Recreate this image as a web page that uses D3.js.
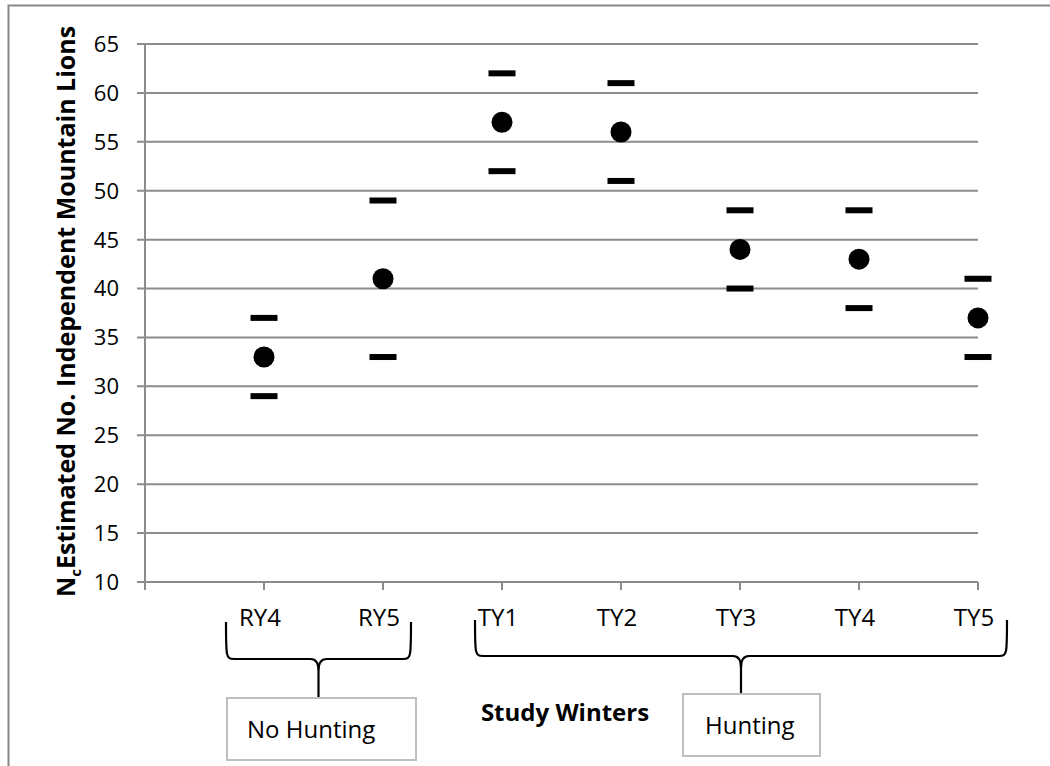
<!DOCTYPE html>
<html>
<head>
<meta charset="utf-8">
<script src="https://cdn.jsdelivr.net/npm/d3@7"></script>
<style>
  body { margin: 0; background: #fff; }
  svg { display: block; font-family: "Open Sans", sans-serif; }
</style>
</head>
<body>
<div id="chart"></div>
<script>
// data
var winters = ["RY4", "RY5", "TY1", "TY2", "TY3", "TY4", "TY5"];
var estimate = [33, 41, 57, 56, 44, 43, 37];
var lower = [29, 33, 52, 51, 40, 38, 33];
var upper = [37, 49, 62, 61, 48, 48, 41];
var yTicks = [10, 15, 20, 25, 30, 35, 40, 45, 50, 55, 60, 65];
var groups = [
  {label: "No Hunting", from: "RY4", to: "RY5"},
  {label: "Hunting", from: "TY1", to: "TY5"}
];

var width = 1050, height = 766;
var margin = {top: 44, right: 72, bottom: 184, left: 145};

var svg = d3.select("#chart").append("svg")
    .attr("width", width)
    .attr("height", height);

// outer frame (only top and left show)
svg.append("path")
    .attr("d", "M8.5,766 V5.5 H1050")
    .attr("fill", "none")
    .attr("stroke", "#888")
    .attr("stroke-width", 2);

var x = d3.scaleLinear()
    .domain([0, winters.length])
    .range([margin.left, width - margin.right]);

var y = d3.scaleLinear()
    .domain([10, 65])
    .range([height - margin.bottom, margin.top]);

var gridColor = "#8c8c8c";

// horizontal gridlines
svg.append("g")
  .selectAll("line")
  .data(yTicks)
  .join("line")
    .attr("x1", x(0) - 8)
    .attr("x2", x(winters.length))
    .attr("y1", d => y(d))
    .attr("y2", d => y(d))
    .attr("stroke", gridColor)
    .attr("stroke-width", 2);

// y axis line
svg.append("line")
    .attr("x1", x(0)).attr("x2", x(0))
    .attr("y1", y(65)).attr("y2", y(10) + 8)
    .attr("stroke", gridColor)
    .attr("stroke-width", 2);

// x tick marks
svg.append("g")
  .selectAll("line")
  .data(d3.range(1, winters.length + 1))
  .join("line")
    .attr("x1", d => x(d)).attr("x2", d => x(d))
    .attr("y1", y(10)).attr("y2", y(10) + 8)
    .attr("stroke", gridColor)
    .attr("stroke-width", 2);

// y tick labels
svg.append("g")
  .selectAll("text")
  .data(yTicks)
  .join("text")
    .attr("x", x(0) - 26)
    .attr("y", d => y(d))
    .attr("dy", "0.36em")
    .attr("text-anchor", "end")
    .attr("font-size", 22)
    .attr("fill", "#000")
    .text(d => d);

// x category labels
svg.append("g")
  .selectAll("text")
  .data(winters)
  .join("text")
    .attr("x", (d, i) => x(i + 1) - 4)
    .attr("y", y(10) + 44)
    .attr("text-anchor", "middle")
    .attr("font-size", 24)
    .text(d => d);

// bounds as dashes
var rows = winters.map((w, i) => ({w: w, i: i + 1, est: estimate[i], lo: lower[i], hi: upper[i]}));

svg.append("g")
  .selectAll("rect")
  .data(rows.flatMap(d => [{i: d.i, v: d.lo}, {i: d.i, v: d.hi}]))
  .join("rect")
    .attr("x", d => x(d.i) - 13.5)
    .attr("y", d => y(d.v) - 3)
    .attr("width", 27)
    .attr("height", 6)
    .attr("fill", "#000");

// estimates
svg.append("g")
  .selectAll("circle")
  .data(rows)
  .join("circle")
    .attr("cx", d => x(d.i))
    .attr("cy", d => y(d.est))
    .attr("r", 10.5)
    .attr("fill", "#000");

// y axis title
var yTitle = svg.append("text")
    .attr("transform", "translate(75," + (y(10) + 15) + ") rotate(-90)")
    .attr("font-size", 25)
    .attr("font-weight", "bold");
yTitle.append("tspan").text("N");
yTitle.append("tspan").attr("font-size", 15).attr("dy", 6).text("c");
yTitle.append("tspan").attr("dy", -6).text("Estimated No. Independent Mountain Lions");

// braces under the axis
function brace(x0, x1, yTop, yMid, yTip) {
  var xm = (x0 + x1) / 2, r = 8;
  return "M" + x0 + "," + yTop +
    " C" + x0 + "," + (yMid - 2) + " " + x0 + "," + yMid + " " + (x0 + r) + "," + yMid +
    " H" + (xm - r) +
    " C" + (xm - 3) + "," + yMid + " " + xm + "," + (yMid + 4) + " " + xm + "," + (yMid + 12) +
    " V" + yTip +
    " M" + xm + "," + (yMid + 12) +
    " C" + xm + "," + (yMid + 4) + " " + (xm + 3) + "," + yMid + " " + (xm + r) + "," + yMid +
    " H" + (x1 - r) +
    " C" + x1 + "," + yMid + " " + x1 + "," + (yMid - 2) + " " + x1 + "," + yTop;
}

var braceBox = [
  {x0: x(1) - 38, x1: x(2) + 28, yTop: 622, yMid: 659, yTip: 698, bx: 227, bw: 189, by: 698, bh: 62, pad: 20},
  {x0: x(3) - 27, x1: x(7) + 29, yTop: 620, yMid: 656, yTip: 694, bx: 683, bw: 137, by: 694, bh: 62, pad: 22}
];

groups.forEach(function(g, k) {
  var b = braceBox[k];
  svg.append("path")
      .attr("d", brace(b.x0, b.x1, b.yTop, b.yMid, b.yTip))
      .attr("fill", "none")
      .attr("stroke", "#000")
      .attr("stroke-width", 2.2);
  svg.append("rect")
      .attr("x", b.bx).attr("y", b.by)
      .attr("width", b.bw).attr("height", b.bh)
      .attr("fill", "#fff")
      .attr("stroke", "#bfbfbf")
      .attr("stroke-width", 2);
  svg.append("text")
      .attr("x", b.bx + b.pad)
      .attr("y", b.by + b.bh / 2)
      .attr("dy", "0.36em")
      .attr("font-size", 24)
      .text(g.label);
});

// x axis title
svg.append("text")
    .attr("x", 565)
    .attr("y", 721)
    .attr("text-anchor", "middle")
    .attr("font-size", 24)
    .attr("font-weight", "bold")
    .text("Study Winters");
</script>
</body>
</html>
